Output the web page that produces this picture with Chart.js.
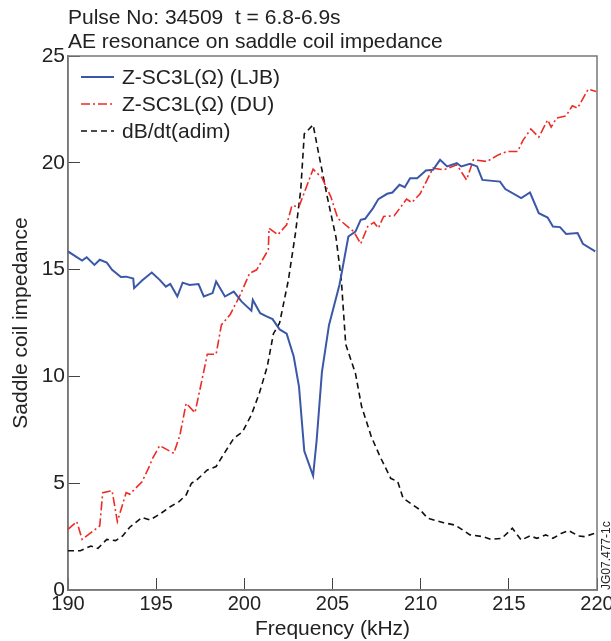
<!DOCTYPE html>
<html>
<head>
<meta charset="utf-8">
<style>
  body { margin: 0; background: #fff; }
  #chart { display: block; }
</style>
</head>
<body>
<canvas id="chart" width="611" height="641"></canvas>

<script src="https://cdn.jsdelivr.net/npm/chart.js"></script>
<script>
    // values (frequency in kHz, impedance / dB/dt)
    const ljbFreq = [190.0, 190.8, 191.06, 191.5, 191.8, 192.2, 192.5, 193.0, 193.3, 193.7, 193.75, 194.2, 194.75, 195.2, 195.55, 195.8, 196.2, 196.5, 196.9, 197.4, 197.7, 198.2, 198.4, 198.9, 199.4, 199.85, 200.4, 200.48, 200.9, 201.2, 201.6, 202.0, 202.4, 202.8, 203.1, 203.4, 203.9, 204.1, 204.4, 204.8, 205.4, 205.9, 206.3, 206.6, 206.85, 207.3, 207.6, 208.1, 208.4, 208.8, 209.1, 209.4, 209.8, 210.3, 210.7, 211.1, 211.5, 212.05, 212.3, 212.8, 213.2, 213.5, 214.5, 214.8, 215.7, 216.2, 216.7, 217.2, 217.5, 217.9, 218.25, 218.9, 219.2, 219.9];
    const ljbZ = [15.85, 15.42, 15.58, 15.22, 15.46, 15.33, 14.99, 14.65, 14.67, 14.58, 14.13, 14.49, 14.86, 14.52, 14.2, 14.33, 13.74, 14.39, 14.28, 14.32, 13.74, 13.9, 14.44, 13.74, 13.97, 13.5, 13.08, 13.58, 12.96, 12.83, 12.68, 12.2, 12.0, 10.93, 9.52, 6.5, 5.35, 7.0, 10.2, 12.4, 14.3, 16.55, 16.78, 17.33, 17.38, 17.88, 18.3, 18.55, 18.61, 18.97, 18.86, 19.28, 19.28, 19.64, 19.67, 20.14, 19.83, 19.99, 19.83, 19.95, 19.83, 19.2, 19.12, 18.77, 18.35, 18.61, 17.64, 17.44, 17.02, 16.99, 16.67, 16.71, 16.21, 15.85];

    const duFreq = [190.0, 190.5, 190.8, 191.8, 191.97, 192.5, 192.8, 193.3, 193.5, 194.2, 194.65, 194.75, 195.2, 196.0, 196.35, 196.7, 197.2, 197.6, 197.9, 198.4, 198.7, 199.2, 199.76, 200.3, 200.7, 201.36, 201.4, 201.9, 202.4, 202.7, 203.1, 203.9, 204.4, 204.9, 205.3, 206.2, 206.6, 207.0, 207.35, 207.6, 207.9, 208.5, 209.2, 209.5, 209.97, 210.7, 211.3, 212.05, 212.6, 212.99, 213.75, 214.4, 214.9, 215.5, 215.8, 216.25, 216.7, 217.2, 217.4, 217.7, 218.25, 218.6, 218.9, 219.5, 219.95];
    const duZ = [2.84, 3.2, 2.37, 3.0, 4.56, 4.65, 3.2, 4.56, 4.48, 5.07, 5.85, 6.09, 6.76, 6.4, 7.26, 8.74, 8.3, 9.84, 11.04, 11.04, 12.41, 12.9, 13.8, 14.83, 14.99, 15.93, 16.94, 16.63, 17.1, 17.99, 17.95, 19.7, 19.3, 18.42, 17.4, 16.78, 16.21, 17.02, 17.21, 16.94, 17.49, 17.52, 18.3, 18.14, 18.55, 19.75, 19.67, 19.91, 19.2, 20.14, 20.06, 20.37, 20.53, 20.53, 21.05, 21.58, 21.2, 22.01, 21.67, 22.09, 22.2, 22.67, 22.56, 23.45, 23.34];

    const dbdtFreq = [190.0, 190.7, 191.3, 191.7, 192.2, 192.7, 193.1, 193.5, 194.2, 194.65, 195.2, 195.8, 196.3, 196.7, 197.0, 197.3, 197.9, 198.4, 198.8, 199.4, 199.9, 200.4, 200.85, 201.3, 201.65, 202.0, 202.5, 202.9, 203.2, 203.4, 203.9, 204.2, 204.7, 205.2, 205.5, 205.75, 206.3, 206.65, 207.2, 207.7, 208.3, 208.7, 209.0, 209.97, 210.4, 211.3, 211.95, 212.8, 213.5, 214.0, 214.6, 215.2, 215.7, 216.2, 216.6, 217.1, 217.5, 218.0, 218.4, 218.95, 219.3, 219.9];
    const dbdtVal = [1.84, 1.84, 2.06, 1.95, 2.37, 2.31, 2.53, 2.94, 3.4, 3.28, 3.55, 3.9, 4.14, 4.45, 5.0, 5.15, 5.62, 5.78, 6.32, 7.1, 7.41, 8.2, 9.21, 10.46, 12.0, 12.5, 14.52, 16.71, 18.74, 21.35, 21.78, 20.5, 18.42, 16.5, 14.52, 11.5, 10.15, 8.59, 7.18, 6.24, 5.23, 5.07, 4.3, 3.75, 3.36, 3.15, 3.04, 2.58, 2.5, 2.37, 2.42, 2.89, 2.34, 2.53, 2.42, 2.58, 2.42, 2.66, 2.78, 2.53, 2.5, 2.66];

    const seriesNames = ['Z-SC3L(Ω) (LJB)', 'Z-SC3L(Ω) (DU)', 'dB/dt(adim)'];
    const titleLines = ['Pulse No: 34509  t = 6.8-6.9s', 'AE resonance on saddle coil impedance'];
    const figureCode = 'JG07.477-1c';

    const FONT = "'Liberation Sans', Arial, Helvetica, sans-serif";
    const TEXT = '#222';
    Chart.defaults.font.family = FONT;
    Chart.defaults.color = TEXT;

    function toPoints(xs, ys) {
        return xs.map((x, i) => ({x: x, y: ys[i]}));
    }

    // frame, titles, legend inside the plot and the figure code on the right
    const decorations = {
        id: 'decorations',
        beforeDatasetsDraw(chart) {
            const {ctx, chartArea} = chart;
            ctx.save();
            ctx.strokeStyle = '#777';
            ctx.lineWidth = 1.5;
            ctx.strokeRect(chartArea.left, chartArea.top, chartArea.right - chartArea.left, chartArea.bottom - chartArea.top);
            ctx.restore();
        },
        afterDraw(chart) {
            const {ctx, chartArea} = chart;
            ctx.save();
            ctx.fillStyle = TEXT;
            ctx.font = '21px ' + FONT;
            ctx.textBaseline = 'middle';
            ctx.textAlign = 'left';
            ctx.fillText(titleLines[0], chartArea.left, 18);
            ctx.fillText(titleLines[1], chartArea.left, 42);

            // legend
            const x0 = chartArea.left + 13;
            chart.data.datasets.forEach((ds, i) => {
                const y = chartArea.top + 21 + i * 27;
                ctx.save();
                ctx.strokeStyle = ds.borderColor;
                ctx.lineWidth = ds.borderWidth;
                ctx.setLineDash(ds.borderDash || []);
                ctx.beginPath();
                ctx.moveTo(x0, y);
                ctx.lineTo(x0 + 33, y);
                ctx.stroke();
                ctx.restore();
                ctx.fillText(ds.label, x0 + 41, y + 1);
            });

            ctx.font = '12px ' + FONT;
            ctx.textBaseline = 'alphabetic';
            ctx.translate(chartArea.right + 13, chartArea.bottom);
            ctx.rotate(-Math.PI / 2);
            ctx.fillText(figureCode, 0, 0);
            ctx.restore();
        }
    };

    const chart = new Chart(document.getElementById('chart'), {
        type: 'line',
        data: {
            datasets: [{
                label: seriesNames[0],
                data: toPoints(ljbFreq, ljbZ),
                borderColor: '#3b57a8',
                backgroundColor: '#3b57a8',
                borderWidth: 2,
            }, {
                label: seriesNames[1],
                data: toPoints(duFreq, duZ),
                borderColor: '#ee2b25',
                backgroundColor: '#ee2b25',
                borderWidth: 1.6,
                borderDash: [9, 3, 2, 3],
            }, {
                label: seriesNames[2],
                data: toPoints(dbdtFreq, dbdtVal),
                borderColor: '#111',
                backgroundColor: '#111',
                borderWidth: 1.6,
                borderDash: [6, 4],
            }]
        },
        options: {
            responsive: false,
            animation: false,
            layout: {
                padding: {left: 0, top: 56, right: 14, bottom: 0}
            },
            elements: {
                point: {radius: 0, hoverRadius: 0},
                line: {tension: 0, fill: false}
            },
            plugins: {
                legend: {display: false},
                tooltip: {enabled: false}
            },
            scales: {
                x: {
                    type: 'linear',
                    min: 190,
                    max: 220,
                    afterFit: (scale) => {
                        scale.height = 51;
                        scale.paddingLeft = 0;
                        scale.paddingRight = 0;
                    },
                    ticks: {
                        stepSize: 5,
                        padding: 14,
                        color: TEXT,
                        font: {size: 20},
                        maxRotation: 0
                    },
                    grid: {
                        drawOnChartArea: false,
                        tickLength: -12,
                        color: '#444'
                    },
                    border: {color: '#777', width: 1.5},
                    title: {
                        display: true,
                        text: 'Frequency (kHz)',
                        color: TEXT,
                        font: {size: 21},
                        padding: {top: 0, bottom: -1}
                    }
                },
                y: {
                    min: 0,
                    max: 25,
                    afterFit: (scale) => { scale.width = 68; },
                    ticks: {
                        stepSize: 5,
                        padding: 15,
                        color: TEXT,
                        font: {size: 21}
                    },
                    grid: {
                        drawOnChartArea: false,
                        tickLength: -12,
                        color: '#444'
                    },
                    border: {color: '#777', width: 1.5},
                    title: {
                        display: true,
                        text: 'Saddle coil impedance',
                        color: TEXT,
                        font: {size: 21},
                        padding: {top: 9, bottom: 0}
                    }
                }
            }
        },
        plugins: [decorations]
    });
</script>
</body>
</html>
